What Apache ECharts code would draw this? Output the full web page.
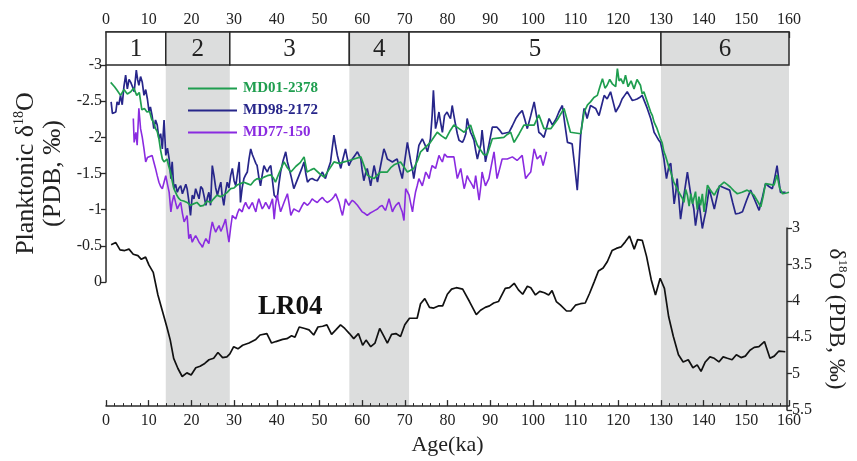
<!DOCTYPE html>
<html>
<head>
<meta charset="utf-8">
<script src="https://cdn.jsdelivr.net/npm/echarts@6/dist/echarts.min.js"></script>
<style>
html,body{margin:0;padding:0;background:#fff;}
#c{width:857px;height:461px;}
</style>
</head>
<body>
<div id="c"></div>
<script>
// ---------- DATA ----------
const stageLabels = ['1','2','3','4','5','6'];
const stageBounds = [0,14,29,57,71,130,160];
const stageShaded = [false,true,false,true,false,true];

const seriesNames = ['MD01-2378','MD98-2172','MD77-150','LR04'];

const md01_2378 = [[1.1,-2.76],[2.0,-2.70],[2.6,-2.65],[3.4,-2.58],[4.2,-2.66],[5.0,-2.60],[5.8,-2.63],[6.5,-2.68],[7.2,-2.58],[7.8,-2.62],[8.4,-2.38],[9.0,-2.40],[9.6,-2.35],[10.2,-2.36],[10.7,-2.25],[11.2,-2.20],[11.6,-2.12],[12.0,-2.08],[12.4,-1.98],[12.8,-1.82],[13.2,-1.70],[13.6,-1.66],[14.3,-1.70],[14.7,-1.60],[15.1,-1.52],[15.5,-1.40],[15.9,-1.29],[16.6,-1.20],[17.0,-1.16],[17.5,-1.13],[18.2,-1.12],[19.0,-1.10],[19.8,-1.06],[20.5,-1.08],[21.3,-1.10],[22.1,-1.05],[22.9,-1.06],[23.7,-1.12],[24.5,-1.10],[25.2,-1.15],[26.0,-1.20],[26.8,-1.18],[27.6,-1.20],[28.4,-1.24],[29.2,-1.29],[30.0,-1.30],[30.7,-1.34],[31.5,-1.36],[32.3,-1.38],[33.1,-1.36],[33.9,-1.34],[34.7,-1.40],[35.4,-1.43],[36.2,-1.42],[37.0,-1.45],[37.8,-1.47],[38.6,-1.48],[39.2,-1.44],[39.7,-1.38],[40.5,-1.50],[41.7,-1.66],[42.5,-1.58],[43.3,-1.52],[44.5,-1.60],[45.5,-1.65],[46.4,-1.73],[47.1,-1.52],[48.0,-1.55],[48.7,-1.57],[50.0,-1.50],[51.1,-1.45],[52.2,-1.55],[53.4,-1.66],[54.6,-1.64],[55.8,-1.66],[57.0,-1.68],[58.1,-1.70],[59.7,-1.73],[60.5,-1.60],[61.2,-1.48],[62.0,-1.45],[62.8,-1.43],[63.6,-1.48],[64.3,-1.52],[65.9,-1.52],[66.7,-1.58],[67.5,-1.62],[69.0,-1.66],[70.6,-1.52],[72.1,-1.57],[73.0,-1.68],[73.7,-1.80],[74.8,-1.86],[76.0,-1.93],[76.8,-2.00],[77.6,-2.07],[78.6,-2.02],[79.6,-1.98],[80.5,-2.08],[81.5,-2.17],[82.7,-2.12],[83.9,-2.07],[84.6,-2.12],[85.4,-2.17],[86.2,-2.02],[87.0,-1.89],[88.5,-1.76],[89.3,-1.76],[90.5,-1.98],[91.8,-1.99],[93.2,-2.00],[94.0,-2.04],[94.8,-2.07],[95.6,-1.93],[96.8,-2.05],[97.9,-2.17],[99.1,-2.17],[100.3,-2.17],[101.4,-2.31],[102.6,-2.12],[104.2,-2.12],[105.8,-2.25],[107.3,-2.40],[108.8,-2.07],[110.0,-2.06],[111.2,-2.05],[112.0,-2.35],[112.8,-2.45],[113.5,-2.49],[114.3,-2.55],[115.1,-2.58],[115.7,-2.70],[116.3,-2.81],[116.9,-2.68],[117.4,-2.72],[118.0,-2.80],[118.6,-2.74],[119.0,-2.76],[119.4,-2.70],[119.8,-2.95],[120.2,-2.78],[120.6,-2.81],[121.2,-2.74],[121.7,-2.86],[122.3,-2.70],[123.0,-2.78],[123.7,-2.67],[124.4,-2.80],[125.2,-2.72],[125.6,-2.60],[126.0,-2.63],[126.8,-2.49],[127.2,-2.42],[127.6,-2.35],[128.0,-2.30],[128.4,-2.21],[129.1,-2.12],[129.9,-1.98],[130.3,-1.92],[130.7,-1.80],[131.1,-1.74],[131.5,-1.66],[131.9,-1.58],[132.3,-1.52],[132.7,-1.44],[133.0,-1.38],[133.4,-1.34],[133.8,-1.29],[134.2,-1.24],[134.6,-1.20],[135.0,-1.16],[135.4,-1.10],[135.8,-1.28],[136.2,-1.20],[136.6,-1.05],[137.0,-1.22],[137.4,-1.08],[137.7,-1.10],[138.1,-1.25],[138.5,-1.00],[138.9,-1.18],[139.3,-1.06],[139.7,-1.22],[140.1,-0.97],[140.5,-1.15],[140.9,-1.34],[141.7,-1.26],[142.5,-1.20],[143.2,-1.28],[144.0,-1.34],[144.8,-1.38],[145.5,-1.35],[146.3,-1.31],[147.1,-1.26],[147.9,-1.22],[149.0,-1.24],[150.2,-1.27],[151.0,-1.24],[151.8,-1.20],[152.6,-1.12],[153.4,-1.04],[154.0,-1.20],[154.5,-1.36],[155.5,-1.35],[156.5,-1.34],[157.2,-1.48],[157.8,-1.30],[158.5,-1.22],[159.4,-1.23],[160.0,-1.24]];

const md98_2172 = [[1.2,-2.49],[1.5,-2.33],[2.3,-2.35],[2.6,-2.49],[3.0,-2.45],[3.4,-2.58],[3.8,-2.45],[4.2,-2.70],[4.6,-2.86],[5.0,-2.67],[5.4,-2.80],[5.8,-2.76],[6.2,-2.70],[6.6,-2.63],[7.1,-2.93],[7.4,-2.80],[7.7,-2.72],[8.1,-2.84],[8.5,-2.76],[8.9,-2.58],[9.3,-2.66],[9.7,-2.53],[10.1,-2.35],[10.4,-2.42],[10.8,-2.30],[11.2,-2.12],[11.6,-2.24],[12.0,-2.17],[12.4,-1.98],[12.8,-2.05],[13.2,-1.84],[13.6,-2.24],[14.0,-1.75],[14.4,-1.85],[14.8,-1.70],[15.2,-1.43],[15.5,-1.66],[15.9,-1.29],[16.3,-1.35],[16.7,-1.24],[17.1,-1.30],[17.5,-1.33],[17.9,-1.22],[18.3,-1.20],[18.7,-1.35],[19.0,-1.29],[19.4,-1.12],[19.8,-0.92],[20.2,-1.20],[20.6,-1.15],[21.0,-1.29],[21.4,-1.22],[21.8,-1.15],[22.2,-1.32],[22.6,-1.29],[23.0,-1.18],[23.4,-1.06],[23.8,-1.18],[24.1,-1.24],[24.5,-1.06],[24.9,-1.61],[25.3,-1.47],[25.7,-1.30],[26.1,-1.20],[26.5,-1.30],[26.9,-1.38],[27.2,-1.20],[27.6,-1.06],[28.0,-1.25],[28.4,-1.38],[28.8,-1.30],[29.2,-1.47],[29.6,-1.57],[30.0,-1.40],[30.4,-1.33],[30.8,-1.50],[31.2,-1.66],[31.5,-1.10],[31.9,-1.30],[32.3,-1.43],[32.7,-1.48],[33.1,-1.52],[33.5,-1.70],[33.9,-1.84],[34.3,-1.76],[34.7,-1.70],[35.1,-1.64],[35.4,-1.61],[35.8,-1.45],[36.2,-1.33],[36.6,-1.48],[37.0,-1.61],[37.4,-1.56],[37.8,-1.52],[38.2,-1.58],[38.6,-1.61],[39.0,-1.40],[39.4,-1.20],[40.1,-1.15],[40.5,-1.35],[40.9,-1.52],[41.5,-1.68],[42.1,-1.80],[42.5,-1.66],[42.9,-1.57],[43.4,-1.45],[44.0,-1.29],[44.6,-1.38],[45.2,-1.47],[45.8,-1.56],[46.4,-1.66],[46.8,-1.50],[47.2,-1.38],[47.8,-1.42],[48.3,-1.43],[48.9,-1.41],[49.5,-1.40],[50.1,-1.46],[50.7,-1.52],[51.4,-1.43],[52.0,-1.55],[52.6,-1.66],[53.0,-1.85],[53.4,-2.03],[53.8,-1.88],[54.2,-1.75],[54.6,-1.66],[55.0,-1.57],[55.5,-1.70],[56.1,-1.84],[56.5,-1.72],[56.9,-1.61],[57.3,-1.66],[57.7,-1.70],[58.3,-1.75],[58.9,-1.80],[59.3,-1.75],[59.7,-1.70],[60.0,-1.55],[60.4,-1.40],[60.8,-1.50],[61.2,-1.57],[61.6,-1.45],[62.0,-1.33],[62.4,-1.47],[62.8,-1.61],[63.2,-1.50],[63.6,-1.38],[64.3,-1.60],[65.1,-1.84],[65.5,-1.78],[65.9,-1.70],[66.5,-1.68],[67.1,-1.66],[67.6,-1.68],[68.2,-1.70],[68.8,-1.56],[69.4,-1.43],[70.0,-1.68],[70.6,-1.93],[71.0,-1.80],[71.4,-1.66],[71.8,-1.55],[72.1,-1.43],[72.7,-1.66],[73.3,-1.89],[74.1,-1.98],[74.7,-1.90],[75.3,-1.80],[75.7,-1.90],[76.0,-1.98],[76.4,-2.30],[76.7,-2.65],[77.2,-2.12],[77.6,-2.22],[78.0,-2.35],[78.4,-2.20],[78.8,-2.07],[79.3,-2.30],[79.9,-2.35],[80.3,-2.30],[80.7,-2.26],[81.1,-2.44],[81.5,-2.30],[81.9,-2.17],[82.3,-2.05],[82.7,-1.96],[83.1,-1.95],[83.5,-1.93],[83.9,-1.98],[84.3,-2.05],[84.6,-2.26],[85.0,-2.16],[85.4,-2.07],[85.8,-2.02],[86.2,-1.96],[86.6,-1.82],[87.0,-1.70],[87.4,-1.68],[87.8,-1.90],[88.1,-2.10],[88.5,-1.88],[88.9,-1.66],[89.7,-1.90],[90.5,-2.14],[91.6,-2.14],[92.2,-2.10],[92.8,-2.05],[93.6,-2.06],[94.4,-2.07],[95.2,-2.16],[96.0,-2.26],[96.7,-2.32],[97.5,-2.37],[98.1,-2.25],[98.7,-2.12],[99.5,-2.30],[100.3,-2.49],[100.9,-2.28],[101.4,-2.07],[102.0,-2.04],[102.6,-2.00],[103.2,-2.13],[103.8,-2.26],[104.6,-2.17],[105.4,-2.25],[106.1,-2.35],[106.9,-2.44],[107.5,-2.18],[108.1,-1.93],[108.7,-1.92],[109.2,-1.91],[109.8,-1.60],[110.4,-1.27],[110.8,-1.65],[111.2,-2.03],[111.6,-2.22],[112.0,-2.40],[112.4,-2.33],[112.7,-2.26],[113.1,-2.35],[113.5,-2.44],[114.1,-2.42],[114.7,-2.40],[115.1,-2.35],[115.5,-2.30],[116.1,-2.44],[116.7,-2.58],[117.4,-2.53],[117.8,-2.58],[118.2,-2.63],[118.8,-2.49],[119.4,-2.35],[120.3,-2.44],[120.9,-2.53],[121.5,-2.58],[122.1,-2.63],[122.7,-2.57],[123.3,-2.51],[123.9,-2.52],[124.4,-2.53],[125.0,-2.55],[125.6,-2.58],[126.2,-2.49],[126.8,-2.40],[127.2,-2.33],[127.6,-2.26],[128.0,-2.17],[128.4,-2.07],[128.8,-2.03],[129.1,-2.00],[129.5,-1.96],[129.9,-1.93],[130.3,-1.82],[130.7,-1.70],[131.0,-1.56],[131.3,-1.43],[131.6,-1.52],[131.9,-1.61],[132.3,-1.64],[132.7,-1.66],[133.1,-1.08],[133.5,-1.25],[133.8,-1.43],[134.2,-1.15],[134.6,-0.87],[135.0,-1.04],[135.4,-1.20],[135.8,-1.36],[136.2,-1.52],[136.6,-1.36],[137.0,-1.20],[137.4,-1.10],[137.7,-1.01],[138.1,-0.78],[138.5,-0.94],[138.9,-1.10],[139.3,-0.92],[139.7,-0.74],[140.1,-0.86],[140.5,-0.97],[140.9,-1.13],[141.3,-1.29],[141.9,-1.15],[142.5,-1.01],[143.1,-1.17],[143.7,-1.33],[144.9,-1.30],[146.1,-1.27],[146.8,-1.10],[147.5,-0.94],[148.3,-0.95],[149.1,-0.97],[150.0,-1.12],[151.0,-1.27],[152.0,-1.13],[153.0,-0.99],[153.8,-1.18],[154.5,-1.36],[155.3,-1.32],[156.1,-1.29],[156.7,-1.45],[157.2,-1.61],[157.6,-1.42],[158.0,-1.24],[159.2,-1.24]];

const md77_150 = [[6.4,-2.26],[6.6,-1.93],[7.0,-2.07],[7.3,-1.89],[7.7,-2.40],[8.1,-2.12],[8.5,-2.00],[8.9,-1.84],[9.3,-1.66],[9.7,-1.72],[10.1,-1.70],[10.8,-1.75],[11.2,-1.66],[11.6,-1.57],[12.0,-1.47],[12.4,-1.38],[12.8,-1.32],[13.2,-1.29],[13.6,-1.38],[14.0,-1.47],[14.4,-1.35],[14.8,-1.24],[15.2,-0.97],[15.5,-1.10],[15.9,-1.20],[16.3,-1.10],[16.7,-1.01],[17.1,-1.06],[17.5,-1.10],[17.9,-0.95],[18.3,-0.83],[18.7,-0.88],[19.0,-0.92],[19.4,-0.60],[19.8,-0.66],[20.2,-0.55],[20.6,-0.60],[21.0,-0.64],[21.4,-0.60],[21.8,-0.55],[22.2,-0.52],[22.6,-0.48],[23.0,-0.55],[23.4,-0.60],[23.8,-0.56],[24.1,-0.53],[24.5,-0.70],[24.9,-0.83],[25.3,-0.75],[25.7,-0.69],[26.1,-0.74],[26.5,-0.78],[26.9,-0.70],[27.2,-0.74],[27.6,-0.80],[28.0,-0.87],[28.4,-0.70],[28.8,-0.55],[29.2,-0.75],[29.6,-0.92],[30.0,-0.90],[30.4,-0.87],[30.8,-0.95],[31.2,-1.01],[31.5,-0.99],[31.9,-0.97],[32.3,-1.05],[32.7,-1.10],[33.1,-1.05],[33.5,-1.01],[33.9,-1.06],[34.3,-1.10],[34.7,-1.03],[35.1,-0.97],[35.4,-1.06],[35.8,-1.15],[36.2,-1.08],[36.6,-1.01],[37.0,-1.05],[37.4,-1.10],[37.8,-1.06],[38.2,-1.01],[38.6,-1.08],[39.0,-1.15],[39.4,-0.87],[39.7,-1.06],[40.1,-1.20],[40.5,-1.08],[40.9,-0.97],[41.7,-1.10],[42.5,-1.22],[42.9,-1.08],[43.3,-0.92],[44.0,-1.01],[44.6,-0.99],[45.2,-0.97],[45.8,-1.04],[46.4,-1.10],[46.8,-1.08],[47.2,-1.06],[47.8,-1.10],[48.3,-1.15],[48.9,-1.12],[49.5,-1.10],[50.1,-1.14],[50.7,-1.17],[51.2,-1.13],[51.8,-1.10],[52.4,-1.12],[53.0,-1.15],[53.4,-1.18],[53.8,-1.22],[54.2,-1.16],[54.6,-1.10],[55.0,-1.00],[55.4,-0.92],[55.8,-1.04],[56.1,-1.15],[56.5,-1.10],[56.9,-1.06],[57.3,-1.10],[57.7,-1.13],[58.3,-1.10],[58.9,-1.06],[59.4,-1.02],[60.0,-0.97],[60.6,-0.95],[61.2,-0.92],[61.8,-0.95],[62.4,-0.97],[63.0,-0.99],[63.6,-1.01],[64.1,-1.04],[64.7,-1.06],[65.1,-1.02],[65.5,-0.99],[65.9,-1.07],[66.3,-1.15],[66.7,-1.06],[67.1,-0.97],[67.5,-1.02],[67.9,-1.06],[68.2,-1.08],[68.6,-1.10],[69.0,-1.03],[69.4,-0.97],[69.8,-0.85],[70.2,-1.29],[70.6,-1.25],[71.0,-1.20],[71.4,-1.08],[71.8,-0.97],[72.1,-1.10],[72.5,-1.24],[72.9,-1.33],[73.3,-1.43],[73.7,-1.38],[74.1,-1.33],[74.5,-1.42],[74.9,-1.52],[75.3,-1.48],[75.7,-1.43],[76.0,-1.52],[76.4,-1.61],[76.8,-1.59],[77.2,-1.57],[77.6,-1.66],[78.0,-1.75],[78.4,-1.70],[78.8,-1.66],[79.3,-1.77],[79.9,-1.73],[80.7,-1.73],[81.5,-1.73],[82.3,-1.43],[82.7,-1.50],[83.1,-1.57],[83.5,-1.43],[83.9,-1.29],[84.3,-1.38],[84.6,-1.47],[85.0,-1.42],[85.4,-1.38],[85.8,-1.34],[86.2,-1.29],[86.6,-1.47],[87.0,-1.30],[87.4,-1.13],[87.8,-1.32],[88.1,-1.52],[88.5,-1.42],[88.9,-1.33],[89.3,-1.38],[89.7,-1.43],[90.3,-1.62],[90.9,-1.80],[91.6,-1.43],[92.2,-1.56],[92.8,-1.70],[94.0,-1.70],[95.2,-1.73],[96.3,-1.68],[97.5,-1.75],[98.3,-1.43],[98.9,-1.48],[99.5,-1.52],[100.3,-1.84],[101.0,-1.70],[101.8,-1.75],[102.4,-1.61],[103.2,-1.80]];

const lr04 = [[1.2,3.23],[2.3,3.20],[3.3,3.30],[4.4,3.31],[5.4,3.29],[6.4,3.36],[7.5,3.38],[8.3,3.43],[9.3,3.40],[10.1,3.51],[11.1,3.61],[12.2,3.92],[13.2,4.13],[14.3,4.36],[15.1,4.54],[15.9,4.79],[16.9,4.93],[17.9,5.04],[19.0,4.99],[20.0,5.02],[21.1,4.92],[22.1,4.90],[23.2,4.86],[24.2,4.81],[25.3,4.79],[26.3,4.71],[27.4,4.78],[28.4,4.77],[29.1,4.73],[30.0,4.63],[31.0,4.66],[32.1,4.61],[33.6,4.58],[35.2,4.53],[36.2,4.47],[37.8,4.45],[38.9,4.58],[39.9,4.56],[41.5,4.53],[42.5,4.52],[43.6,4.48],[44.4,4.50],[45.4,4.36],[46.7,4.38],[47.7,4.40],[48.8,4.47],[49.8,4.36],[50.9,4.35],[51.9,4.33],[53.0,4.46],[54.0,4.40],[55.1,4.33],[56.1,4.38],[57.2,4.45],[58.2,4.52],[59.3,4.45],[60.3,4.61],[61.1,4.54],[62.2,4.63],[63.2,4.58],[64.3,4.38],[65.3,4.49],[66.1,4.58],[67.1,4.46],[68.1,4.45],[69.2,4.49],[70.2,4.33],[71.3,4.24],[72.3,4.24],[73.1,4.24],[73.9,4.04],[74.9,3.97],[76.0,4.09],[77.0,4.10],[78.1,4.07],[79.1,4.07],[80.2,3.91],[81.2,3.84],[82.3,3.82],[83.8,3.84],[85.4,4.01],[87.0,4.19],[88.0,4.13],[89.1,4.09],[90.1,4.07],[91.1,4.03],[92.2,4.01],[93.8,3.83],[94.8,3.82],[95.9,3.76],[96.9,3.85],[97.9,3.91],[99.0,3.80],[99.8,3.82],[100.9,3.92],[101.9,3.87],[103.0,3.89],[104.0,3.92],[104.8,3.86],[105.8,4.01],[106.8,4.06],[108.2,4.14],[109.2,4.14],[110.3,4.06],[111.5,4.04],[112.6,4.03],[113.6,3.90],[114.7,3.74],[115.7,3.59],[116.8,3.55],[117.8,3.46],[118.9,3.31],[119.9,3.28],[121.0,3.26],[122.0,3.19],[123.0,3.11],[124.1,3.29],[124.9,3.16],[126.0,3.17],[127.0,3.39],[128.1,3.71],[129.1,3.92],[130.2,3.69],[131.2,3.83],[132.2,4.22],[133.3,4.49],[134.5,4.74],[135.6,4.84],[136.8,4.81],[137.9,4.92],[138.9,4.88],[139.8,4.97],[140.8,4.84],[141.9,4.77],[142.9,4.79],[144.0,4.84],[145.0,4.77],[146.0,4.79],[147.1,4.81],[148.1,4.74],[149.2,4.78],[150.2,4.76],[151.3,4.68],[152.3,4.64],[153.4,4.63],[154.7,4.56],[156.0,4.79],[157.0,4.76],[158.1,4.69],[159.6,4.70]];

const xTicksMax = 160, xTicksInterval = 10;
const leftAxisRange = [-3, 0];
const rightAxisRange = [3, 5.5];

// ---------- STYLE ----------
const FONT = '"Liberation Serif", "Times New Roman", serif';
const AX = '#2a2a2a';
const colors = {'MD01-2378':'#1f9e4f','MD98-2172':'#27268a','MD77-150':'#8a2be0','LR04':'#111111'};
const SHADE = '#dcdddd';

const shadeBands = [];
for (let i = 0; i < stageLabels.length; i++) if (stageShaded[i]) shadeBands.push([stageBounds[i], stageBounds[i+1]]);
const stageCells = stageLabels.map((l, i) => [stageBounds[i], stageBounds[i+1]]);

const G = {left:106, right:68};
const chart = echarts.init(document.getElementById('c'), null, {renderer:'canvas'});

const hiddenX = (gi) => ({type:'value', gridIndex:gi, min:0, max:xTicksMax, show:false});

const option = {
  animation:false,
  backgroundColor:'#ffffff',
  grid:[
    {left:G.left, right:G.right, top:32, bottom:51},
    {left:G.left, right:G.right, top:32, height:33},
    {left:G.left, right:G.right, top:65, height:217},
    {left:G.left, right:G.right, top:228, bottom:51}
  ],
  xAxis:[
    {type:'value', gridIndex:0, position:'bottom', min:0, max:xTicksMax, interval:xTicksInterval,
     axisLine:{show:true, onZero:false, lineStyle:{color:AX, width:1.5}},
     axisTick:{show:true, inside:true, length:6, lineStyle:{color:AX, width:1.3}},
     minorTick:{show:true, splitNumber:5, length:3, lineStyle:{color:AX, width:1}},
     axisLabel:{color:'#222', fontFamily:FONT, fontSize:16, margin:7},
     splitLine:{show:false},
     name:'Age(ka)', nameLocation:'middle', nameGap:27,
     nameTextStyle:{color:'#222', fontFamily:FONT, fontSize:22}},
    {type:'value', gridIndex:0, position:'top', min:0, max:xTicksMax, interval:xTicksInterval,
     axisLine:{show:true, onZero:false, lineStyle:{color:AX, width:1.5}},
     axisTick:{show:true, inside:true, length:6, lineStyle:{color:AX, width:1.3}},
     minorTick:{show:true, splitNumber:5, length:3, lineStyle:{color:AX, width:1}},
     axisLabel:{color:'#222', fontFamily:FONT, fontSize:16, margin:4},
     splitLine:{show:false}},
    hiddenX(1), hiddenX(2), hiddenX(3)
  ],
  yAxis:[
    {type:'value', gridIndex:0, min:0, max:1, show:false},
    {type:'value', gridIndex:1, min:0, max:1, show:false},
    {type:'value', gridIndex:2, position:'left', min:leftAxisRange[0], max:leftAxisRange[1], interval:0.5, inverse:true,
     axisLine:{show:true, onZero:false, lineStyle:{color:AX, width:1.5}},
     axisTick:{show:true, inside:false, length:5, lineStyle:{color:AX, width:1.3}},
     axisLabel:{color:'#222', fontFamily:FONT, fontSize:16, margin:4},
     splitLine:{show:false},
     name:'{a|Planktonic δ}{s|18}{a|O}\n{a|(PDB, ‰)}', nameLocation:'middle', nameGap:38,
     nameTextStyle:{color:'#222', fontFamily:FONT,
       rich:{a:{fontFamily:FONT, fontSize:26, lineHeight:27, color:'#222'},
             s:{fontFamily:FONT, fontSize:14, lineHeight:27, verticalAlign:'top', color:'#222'}}}},
    {type:'value', gridIndex:3, position:'right', min:rightAxisRange[0], max:rightAxisRange[1], interval:0.5, inverse:true,
     axisLine:{show:true, onZero:false, lineStyle:{color:AX, width:1.5}},
     axisTick:{show:true, inside:false, length:5, lineStyle:{color:AX, width:1.3}},
     axisLabel:{color:'#222', fontFamily:FONT, fontSize:16, margin:5},
     splitLine:{show:false},
     name:'{a|δ}{s|18}{a|O (PDB, ‰)}', nameLocation:'middle', nameGap:36, nameRotate:-90,
     nameTextStyle:{color:'#222', fontFamily:FONT,
       rich:{a:{fontFamily:FONT, fontSize:23, lineHeight:26, color:'#222'},
             s:{fontFamily:FONT, fontSize:13, lineHeight:26, verticalAlign:'top', color:'#222'}}}}
  ],
  legend:{
    orient:'vertical', left:188, top:81, padding:0, itemWidth:49, itemHeight:2, itemGap:7, icon:'rect',
    textStyle:{fontFamily:FONT, fontWeight:'bold', fontSize:15, padding:[0,0,0,1]},
    data:[
      {name:'MD01-2378', textStyle:{color:colors['MD01-2378']}},
      {name:'MD98-2172', textStyle:{color:colors['MD98-2172']}},
      {name:'MD77-150', textStyle:{color:colors['MD77-150']}}
    ]
  },
  graphic:[
    {type:'text', left:258, top:294, z:10,
     style:{text:'LR04', font:'bold 27px "Liberation Serif", "Times New Roman", serif', fill:'#111'}}
  ],
  series:[
    {type:'custom', name:'shade', xAxisIndex:0, yAxisIndex:0, silent:true, z:0,
     encode:{x:[0,1]}, data:shadeBands,
     renderItem:function(params, api){
       const a = api.coord([api.value(0), 1]);
       const b = api.coord([api.value(1), 0]);
       return {type:'rect', shape:{x:a[0], y:a[1], width:b[0]-a[0], height:b[1]-a[1]}, style:{fill:SHADE}};
     }},
    {type:'custom', name:'stages', xAxisIndex:2, yAxisIndex:1, silent:true, z:5,
     encode:{x:[0,1]}, data:stageCells,
     renderItem:function(params, api){
       const i = params.dataIndex;
       const a = api.coord([api.value(0), 1]);
       const b = api.coord([api.value(1), 0]);
       return {type:'group', children:[
         {type:'rect', shape:{x:a[0], y:a[1], width:b[0]-a[0], height:b[1]-a[1]},
          style:{fill: stageShaded[i] ? SHADE : '#ffffff', stroke:AX, lineWidth:1.5}},
         {type:'text', style:{text:stageLabels[i], x:(a[0]+b[0])/2, y:(a[1]+b[1])/2+1, align:'center', verticalAlign:'middle',
           font:'25px "Liberation Serif", "Times New Roman", serif', fill:'#222'}}
       ]};
     }},
    {type:'line', name:'MD98-2172', xAxisIndex:3, yAxisIndex:2, data:md98_2172, symbol:'none', z:3,
     lineStyle:{color:colors['MD98-2172'], width:1.7}, itemStyle:{color:colors['MD98-2172']}},
    {type:'line', name:'MD01-2378', xAxisIndex:3, yAxisIndex:2, data:md01_2378, symbol:'none', z:4,
     lineStyle:{color:colors['MD01-2378'], width:1.7}, itemStyle:{color:colors['MD01-2378']}},
    {type:'line', name:'MD77-150', xAxisIndex:3, yAxisIndex:2, data:md77_150, symbol:'none', z:3,
     lineStyle:{color:colors['MD77-150'], width:1.6}, itemStyle:{color:colors['MD77-150']}},
    {type:'line', name:'LR04', xAxisIndex:4, yAxisIndex:3, data:lr04, symbol:'none', z:3,
     lineStyle:{color:colors['LR04'], width:1.7}, itemStyle:{color:colors['LR04']}}
  ]
};
chart.setOption(option);
</script>
</body>
</html>
